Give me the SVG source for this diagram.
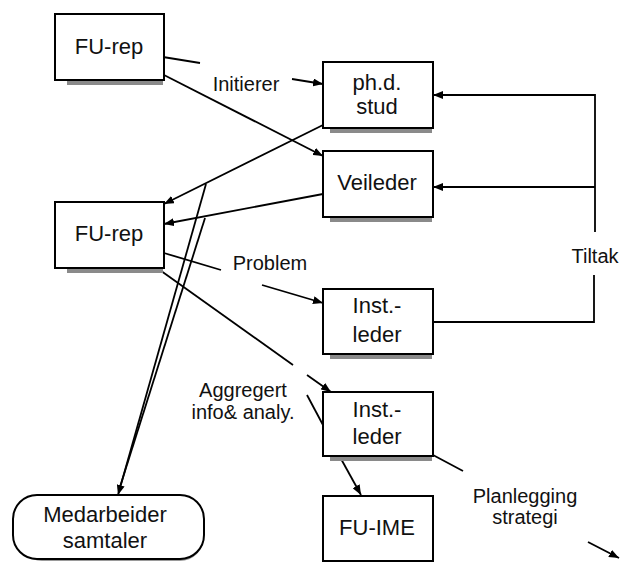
<svg xmlns="http://www.w3.org/2000/svg" width="621" height="562" viewBox="0 0 621 562">
<style>
.box{fill:#fff;stroke:#000;stroke-width:2}
.sh{fill:#8a8a8a}
.t{font-family:"Liberation Sans",Arial,sans-serif;font-size:22px;fill:#111;text-anchor:middle}
.l{font-family:"Liberation Sans",Arial,sans-serif;font-size:20px;fill:#111;text-anchor:middle}
.c{fill:none;stroke:#000;stroke-width:1.8}
</style>
<defs>
<marker id="ah" viewBox="0 0 10 8" refX="10" refY="4" markerWidth="10" markerHeight="8" markerUnits="userSpaceOnUse" orient="auto">
<path d="M0,0 L10,4 L0,8 z" fill="#000"/>
</marker>
</defs>
<rect width="621" height="562" fill="#fff"/>

<g id="connectors">
<path class="c" d="M163,57 L200,63"/>
<path class="c" d="M292,79 L323,84" marker-end="url(#ah)"/>
<path class="c" d="M164,75 L323,156" marker-end="url(#ah)"/>
<path class="c" d="M323,125 L164,204" marker-end="url(#ah)"/>
<path class="c" d="M323,194 L164,224" marker-end="url(#ah)"/>
<path class="c" d="M206,184 L118,495" marker-end="url(#ah)"/>
<path class="c" d="M205,218 L119,490"/>
<path class="c" d="M164,253 L221,270"/>
<path class="c" d="M262,285 L323,303" marker-end="url(#ah)"/>
<path class="c" d="M157,268 L293,365"/>
<path class="c" d="M307,375 L331,392" marker-end="url(#ah)"/>
<path class="c" d="M307,395 L323,425"/>
<path class="c" d="M340,457 L361,495" marker-end="url(#ah)"/>
<path class="c" d="M433,455 L463,471"/>
<path class="c" d="M588,542 L619,558" marker-end="url(#ah)"/>
<path class="c" d="M595,95 L433,95" marker-end="url(#ah)"/>
<path class="c" d="M595,187 L433,187" marker-end="url(#ah)"/>
<path class="c" d="M595,94 L595,232"/>
<path class="c" d="M594,275 L594,322 L433,322"/>
</g>

<g id="fu-rep-1">
<rect class="sh" x="67" y="80" width="96" height="5"/>
<rect class="box" x="55" y="14" width="109" height="66"/>
<text class="t" x="109" y="54">FU-rep</text>
</g>
<g id="fu-rep-2">
<rect class="sh" x="67" y="268" width="96" height="5"/>
<rect class="box" x="55" y="202" width="109" height="66"/>
<text class="t" x="109" y="241">FU-rep</text>
</g>
<g id="phd-stud">
<rect class="sh" x="330" y="128" width="102" height="5"/>
<rect class="box" x="323" y="62" width="110" height="66"/>
<text class="t" x="377" y="90">ph.d.</text>
<text class="t" x="377" y="114">stud</text>
</g>
<g id="veileder">
<rect class="sh" x="330" y="217" width="102" height="5"/>
<rect class="box" x="323" y="151" width="110" height="66"/>
<text class="t" x="377" y="190">Veileder</text>
</g>
<g id="inst-leder-1">
<rect class="sh" x="330" y="354" width="102" height="5"/>
<rect class="box" x="323" y="289" width="110" height="65"/>
<text class="t" x="377" y="313">Inst.-</text>
<text class="t" x="377" y="342">leder</text>
</g>
<g id="inst-leder-2">
<rect class="sh" x="330" y="456" width="102" height="5"/>
<rect class="box" x="323" y="392" width="110" height="64"/>
<text class="t" x="377" y="417">Inst.-</text>
<text class="t" x="377" y="444">leder</text>
</g>
<g id="fu-ime">
<rect class="box" x="323" y="496" width="110" height="65"/>
<text class="t" x="377" y="535">FU-IME</text>
</g>
<g id="medarbeider-samtaler">
<rect x="18" y="498" width="186" height="63" rx="24" ry="24" fill="#9a9a9a"/>
<rect class="box" x="13" y="495" width="191" height="64" rx="24" ry="24"/>
<text class="t" x="105" y="522">Medarbeider</text>
<text class="t" x="105" y="548">samtaler</text>
</g>

<g id="labels">
<text class="l" x="246" y="91">Initierer</text>
<text class="l" x="270" y="270">Problem</text>
<text class="l" x="243" y="397">Aggregert</text>
<text class="l" x="243" y="419">info&amp; analy.</text>
<text class="l" x="595" y="263">Tiltak</text>
<text class="l" x="525" y="503">Planlegging</text>
<text class="l" x="525" y="524">strategi</text>
</g>
</svg>
